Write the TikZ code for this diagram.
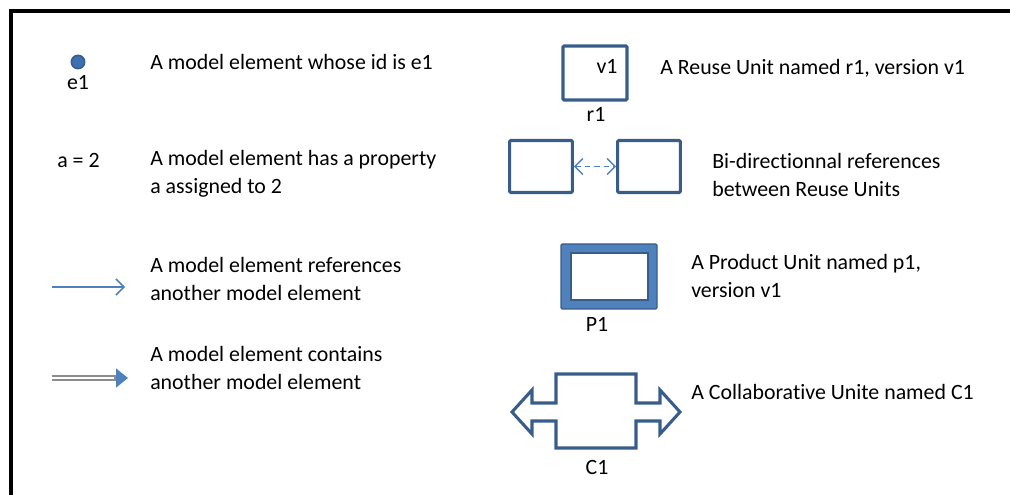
\documentclass[tikz,border=0pt]{standalone}
\usepackage{fontspec}
\setmainfont{Carlito}[Ligatures=NoCommon]
\usetikzlibrary{arrows.meta}
\definecolor{unitline}{HTML}{385D8A}
\definecolor{unitfill}{HTML}{4F81BD}
\definecolor{dotfill}{HTML}{3F6FAE}
\definecolor{shaft}{HTML}{8C8C8C}
\tikzset{refbarb/.tip={Straight Barb[length=6pt,width=12pt,line width=1.1pt]}}
\begin{document}
\begin{tikzpicture}[x=0.75pt,y=-0.75pt,
  txt/.style={font=\fontsize{16.4pt}{21pt}\selectfont,anchor=west,align=left,inner sep=0pt},
  lbl/.style={font=\fontsize{16.4pt}{21pt}\selectfont,inner sep=0pt},
  unitbox/.style={draw=unitline,line width=2.3pt,rounded corners=0.8pt},
  refline/.style={draw=unitfill,line width=1.1pt}]
\useasboundingbox (0,0) rectangle (1010,495);
% frame
\draw[line width=2.4pt,line cap=rect] (1012,11) -- (11,11) -- (11,497);

% model element
\node[circle,fill=dotfill,draw=unitline,line width=1.2pt,minimum size=10pt,inner sep=0pt] (e1) at (78,62) {};
\node[lbl] (e1l) at (78,83) {e1};
\node[txt] (t1) at (150,62) {A model element whose id is e1};

% property
\node[txt] (a2) at (57,160) {a = 2};
\node[txt] (t2) at (150,174) {A model element has a property\\a assigned to 2};

% reference
\coordinate (r0) at (52,287);
\coordinate (r1e) at (125,287);
\draw[refline,-refbarb] (r0) -- (r1e);
\node[txt] (t3) at (150,279) {A model element references\\another model element};

% containment
\coordinate (c0) at (52,378);
\coordinate (c1e) at (128,378);
\draw[draw=shaft,line width=4pt,-{Triangle[length=9pt,width=14pt,color=unitfill,fill=unitfill]}] (c0) -- (c1e);
\draw[draw=white,line width=0.8pt] (c0) -- (114,378);
\node[txt] (t4) at (150,368) {A model element contains\\another model element};

% reuse unit
\draw[unitbox] (563,46) rectangle (627,100);
\node[lbl] (v1) at (607,66) {v1};
\node[lbl] (r1) at (596,114) {r1};
\node[txt] (t5) at (660,68) {A Reuse Unit named r1, version v1};

% bi-directional references
\node[unitbox,minimum width=47pt,minimum height=39pt,inner sep=0pt] (ba) at (541,166.5) {};
\node[unitbox,minimum width=47pt,minimum height=39pt,inner sep=0pt] (bb) at (649,166.5) {};
\draw[refline,dash pattern=on 4pt off 3pt,refbarb-refbarb] (ba.east) -- (bb.west);
\node[txt] (t6) at (712,175) {Bi-directionnal references\\between Reuse Units};

% product unit
\draw[fill=unitfill,draw=unitline,line width=1pt,rounded corners=1pt] (561,244) rectangle (657,309);
\draw[fill=white,draw=unitline,line width=1.6pt] (571,253) rectangle (648,300);
\node[lbl] (p1) at (597,324) {P1};
\node[txt] (t7) at (691,276) {A Product Unit named p1,\\version v1};

% collaborative unit
\draw[draw=unitline,line width=2.3pt,line join=miter]
  (512,412) -- (532,390) -- (532,403) -- (556,403) -- (556,374) -- (636,374)
  -- (636,403) -- (660,403) -- (660,390) -- (680,412) -- (660,434) -- (660,421)
  -- (636,421) -- (636,448) -- (556,448) -- (556,421) -- (532,421) -- (532,434) -- cycle;
\node[lbl] (cu) at (597,467) {C1};
\node[txt] (t8) at (691,392) {A Collaborative Unite named C1};
\end{tikzpicture}
\end{document}
